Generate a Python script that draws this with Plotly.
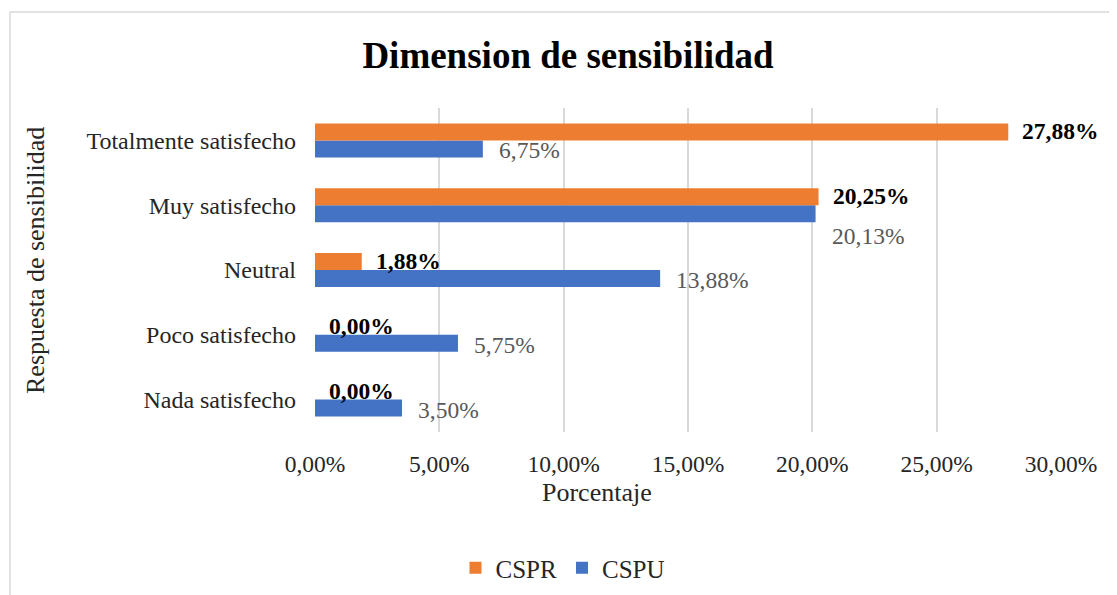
import plotly.graph_objects as go

categories = ["Nada satisfecho", "Poco satisfecho", "Neutral", "Muy satisfecho", "Totalmente satisfecho"]
cspr = [0.00, 0.00, 1.88, 20.25, 27.88]
cspu = [3.50, 5.75, 13.88, 20.13, 6.75]
x_ticks = [0, 5, 10, 15, 20, 25, 30]
x_tick_labels = ["0,00%", "5,00%", "10,00%", "15,00%", "20,00%", "25,00%", "30,00%"]

FONT = "Liberation Serif, Times New Roman, serif"
ORANGE = "#ED7D31"
BLUE = "#4472C4"

OFF = 8  # page body margin
W, H = 1117 - OFF, 595 - OFF
PL, PR, PT, PB = 315, 1061, 108, 432  # plot area in page pixels
L, R, T, B = PL - OFF, W - (PR - OFF), PT - OFF, H - (PB - OFF)
pw, ph = PR - PL, PB - PT


def px(xp):
    return (xp - PL) / pw


def py(yp):
    return (PB - yp) / ph


def fmt(v):
    return f"{v:.2f}".replace(".", ",") + "%"


fig = go.Figure()
fig.add_trace(go.Bar(y=categories, x=cspu, name="CSPU", orientation="h",
                     marker=dict(color=BLUE, line=dict(width=0)), legendrank=2))
fig.add_trace(go.Bar(y=categories, x=cspr, name="CSPR", orientation="h",
                     marker=dict(color=ORANGE, line=dict(width=0)), legendrank=1))

annotations = []
extra_shift_cspu = {"Muy satisfecho": -21}
for c, v in zip(categories, cspr):
    annotations.append(dict(x=v, y=c, xref="x", yref="y", text=fmt(v), showarrow=False,
                            xanchor="left", yanchor="middle", xshift=12, yshift=9,
                            font=dict(family=FONT, size=23.5, color="#000000", weight="bold")))
for c, v in zip(categories, cspu):
    annotations.append(dict(x=v, y=c, xref="x", yref="y", text=fmt(v), showarrow=False,
                            xanchor="left", yanchor="middle", xshift=14,
                            yshift=-10 + extra_shift_cspu.get(c, 0),
                            font=dict(family=FONT, size=23.5, color="#595959")))

annotations.append(dict(x=px(597), y=py(492), xref="paper", yref="paper",
                        text="Porcentaje", showarrow=False, xanchor="center", yanchor="middle",
                        font=dict(family=FONT, size=26, color="#262626")))
annotations.append(dict(x=px(35), y=py(261), xref="paper", yref="paper",
                        text="Respuesta de sensibilidad", showarrow=False, textangle=-90,
                        xanchor="center", yanchor="middle",
                        font=dict(family=FONT, size=26, color="#262626")))

fig.update_layout(
    width=W, height=H,
    margin=dict(l=L, r=R, t=T, b=B),
    paper_bgcolor="white", plot_bgcolor="white",
    barmode="group", bargap=0.475, bargroupgap=0,
    title=dict(text="<b>Dimension de sensibilidad</b>", x=(568 - OFF) / W, xanchor="center",
               y=1 - (55 - OFF) / H, yanchor="middle", yref="container",
               font=dict(family=FONT, size=37, color="#000000")),
    xaxis=dict(range=[0, 30], tickvals=x_ticks, ticktext=x_tick_labels,
               showgrid=True, gridcolor="#D9D9D9", gridwidth=2,
               zeroline=False, showline=False, ticks="",
               ticklabelstandoff=15,
               tickfont=dict(family=FONT, size=23.5, color="#262626")),
    yaxis=dict(showgrid=False, zeroline=False, showline=False, ticks="",
               ticklabelstandoff=18,
               tickfont=dict(family=FONT, size=24, color="#262626")),
    legend=dict(orientation="h", xref="container", yref="container",
                x=(563 - OFF) / W, xanchor="center",
                y=1 - (568 - OFF) / H, yanchor="middle",
                font=dict(family=FONT, size=25, color="#262626"),
                itemwidth=30, bgcolor="rgba(0,0,0,0)"),
    showlegend=True,
    annotations=annotations,
    shapes=[dict(type="rect", xref="paper", yref="paper",
                 x0=px(10), x1=px(1140),
                 y0=py(620), y1=py(12),
                 line=dict(color="#D9D9D9", width=1.5), fillcolor="rgba(0,0,0,0)", layer="below")],
)

fig.write_html("out.html")
